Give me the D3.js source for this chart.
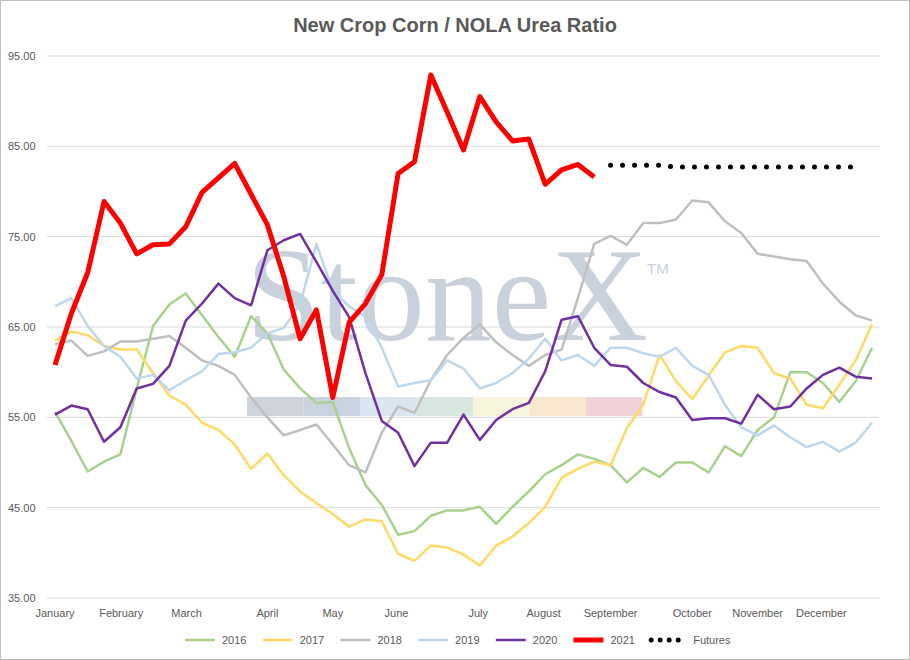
<!DOCTYPE html>
<html>
<head>
<meta charset="utf-8">
<script src="https://cdn.jsdelivr.net/npm/d3@7"></script>
<style>
  body { margin: 0; background: #fff; }
  svg { font-family: "Liberation Sans", "Open Sans", sans-serif; }
</style>
</head>
<body>
<svg id="chart" width="910" height="660"></svg>
<script>
// weekly ratios, index 0 = first week of January
var s2016 = [55.6,52.4,49,50.1,50.9,58.2,65.1,67.5,68.7,66.3,63.9,61.7,66.2,64.3,60.3,58.2,56.6,56.7,51.6,47.5,45.3,42,42.4,44.1,44.7,44.7,45.1,43.2,45.1,46.8,48.7,49.7,50.9,50.4,49.7,47.8,49.4,48.4,50,50,48.9,51.8,50.7,53.6,55,60,60,58.8,56.7,59,62.7];
var s2017 = [63.5,64.5,64.1,62.9,62.5,62.5,59.9,57.4,56.4,54.4,53.6,52,49.3,51,48.6,46.8,45.5,44.3,42.9,43.7,43.5,39.9,39.1,40.8,40.6,39.8,38.6,40.8,41.8,43.3,45.1,48.3,49.3,50.1,49.7,53.8,56.4,61.9,59,57,59.6,62.2,62.9,62.7,59.9,59.3,56.4,56,58.6,61.3,65.3];
var s2018 = [63.1,63.5,61.8,62.3,63.4,63.4,63.7,64,62.7,61.3,60.7,59.7,57.2,55,53,53.6,54.2,52,49.7,48.9,53.3,56.2,55.5,59.1,61.9,63.8,65.3,63.3,61.9,60.7,61.9,62.5,68.2,74.2,75.1,74.1,76.5,76.5,76.9,79,78.8,76.7,75.4,73.1,72.8,72.5,72.3,69.8,67.8,66.3,65.7];
var s2019 = [67.3,68.2,65.1,62.9,61.7,59.3,59.7,58,59.1,60.1,62,62.2,62.7,64.3,64.9,67.5,74.2,69,67.3,66.1,62.7,58.4,58.8,59.1,61.3,60.4,58.2,58.8,59.9,61.5,63.7,61.3,61.9,60.7,62.7,62.7,62.1,61.7,62.7,60.7,59.7,56.4,53.9,53,54.1,52.8,51.7,52.3,51.2,52.2,54.4];
var s2020 = [55.3,56.3,55.9,52.3,53.9,58.2,58.7,60.7,65.7,67.6,69.8,68.2,67.4,73.5,74.6,75.3,72.2,69,66.1,59.9,54.6,53.3,49.6,52.2,52.2,55.3,52.5,54.7,55.9,56.6,60.1,65.8,66.2,62.7,60.8,60.6,58.8,57.8,57.2,54.7,54.9,54.9,54.3,57.5,55.9,56.2,58.2,59.7,60.5,59.5,59.3];
var s2021 = [60.8,66.5,71,78.9,76.5,73.1,74.1,74.2,76.1,79.9,81.5,83.1,79.7,76.3,70.6,63.7,66.9,57.2,65.5,67.6,70.8,82,83.3,92.9,88.8,84.6,90.5,87.7,85.6,85.8,80.8,82.4,83,81.6];
var futuresStart = 34;
var futures = [82.9,82.9,82.9,82.9,82.7,82.7,82.7,82.7,82.7,82.7,82.7,82.7,82.7,82.7,82.7,82.7];

var months = ["January","February","March","April","May","June","July","August","September","October","November","December"];
var monthWeeks = [0,4.05,8.05,13,17,20.9,25.9,29.9,34,39,43,46.9];
var yTicks = [35,45,55,65,75,85,95];

var svg = d3.select("#chart");
var x = d3.scaleLinear().domain([0, 50]).range([55, 872]);
var y = d3.scaleLinear().domain([35, 95]).range([598, 56]);

svg.append("rect").attr("x", 0.5).attr("y", 0.5).attr("width", 909).attr("height", 659)
   .attr("fill", "#fff").attr("stroke", "#bfbfbf");

svg.append("text").attr("x", 455).attr("y", 32).attr("text-anchor", "middle")
   .attr("font-size", 20).attr("font-weight", "bold").attr("fill", "#595959")
   .text("New Crop Corn / NOLA Urea Ratio");

// grid + y labels
svg.append("g").selectAll("line").data(yTicks).join("line")
   .attr("x1", 47).attr("x2", 880)
   .attr("y1", function(d){ return y(d); }).attr("y2", function(d){ return y(d); })
   .attr("stroke", "#d9d9d9").attr("stroke-width", 1);
svg.append("g").selectAll("text").data(yTicks).join("text")
   .attr("x", 8).attr("y", function(d){ return y(d) + 4; })
   .attr("font-size", 11).attr("fill", "#595959")
   .text(function(d){ return d.toFixed(2); });

// month labels
svg.append("g").selectAll("text").data(months).join("text")
   .attr("x", function(d, i){ return x(monthWeeks[i]); }).attr("y", 617)
   .attr("text-anchor", "middle").attr("font-size", 11).attr("fill", "#595959")
   .text(function(d){ return d; });

// watermark
var band = ["#cfd4dc","#c9d3df","#dbe6f1","#d7e6df","#f7f5dc","#f8e7cf","#efd3d8"];
svg.append("g").selectAll("rect").data(band).join("rect")
   .attr("x", function(d, i){ return 247 + i * 56.5; }).attr("y", 397)
   .attr("width", 56.5).attr("height", 19).attr("fill", function(d){ return d; });
svg.append("text").attr("x", 246).attr("y", 340).attr("font-family", "Liberation Serif, DejaVu Serif, serif")
   .attr("font-size", 134).attr("fill", "#c9d1dd").text("StoneX");
svg.append("text").attr("x", 647).attr("y", 274).attr("font-size", 15).attr("fill", "#c9d1dd").text("TM");

var line = d3.line().x(function(d, i){ return x(i); }).y(function(d){ return y(d); });
var series = [
  {name: "2016", data: s2016, color: "#a9d18e", w: 2.5},
  {name: "2017", data: s2017, color: "#ffd966", w: 2.5},
  {name: "2018", data: s2018, color: "#bfbfbf", w: 2.5},
  {name: "2019", data: s2019, color: "#bdd7ee", w: 2.5},
  {name: "2020", data: s2020, color: "#7030a0", w: 2.5},
  {name: "2021", data: s2021, color: "#ff0000", w: 5}
];
series.forEach(function(s){
  svg.append("path").attr("d", line(s.data)).attr("fill", "none")
     .attr("stroke", s.color).attr("stroke-width", s.w).attr("stroke-linejoin", "round");
});

var fLine = d3.line().x(function(d, i){ return x(futuresStart + i); }).y(function(d){ return y(d); });
svg.append("path").attr("d", fLine(futures)).attr("fill", "none").attr("stroke", "#000")
   .attr("stroke-width", 5).attr("stroke-linecap", "round").attr("stroke-dasharray", "0,12");

// legend
var legend = series.concat([{name: "Futures", color: "#000", w: 5, dots: true}]);
var lg = svg.append("g").selectAll("g").data(legend).join("g")
   .attr("transform", function(d, i){ return "translate(" + (185 + i * 77.7) + ",640)"; });
lg.append("line").attr("x1", 0).attr("x2", 30).attr("y1", 0).attr("y2", 0)
  .attr("stroke", function(d){ return d.color; }).attr("stroke-width", function(d){ return d.w; })
  .attr("stroke-linecap", function(d){ return d.dots ? "round" : "butt"; })
  .attr("stroke-dasharray", function(d){ return d.dots ? "0,9" : null; });
lg.append("text").attr("x", function(d){ return d.dots ? 42 : 37; }).attr("y", 4)
  .attr("font-size", 11).attr("fill", "#595959").text(function(d){ return d.name; });
</script>
</body>
</html>
